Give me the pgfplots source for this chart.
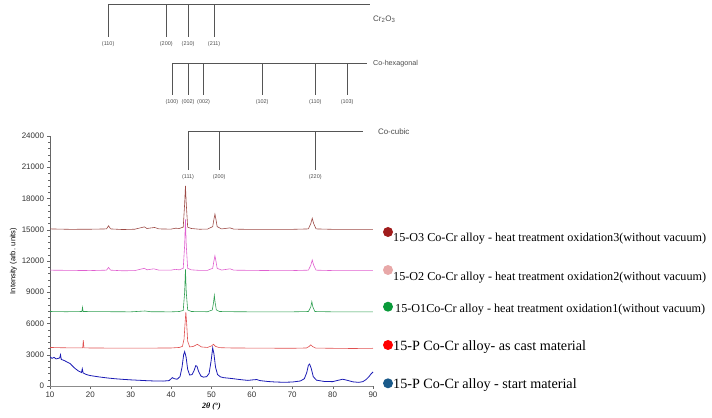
\documentclass[border=0pt]{standalone}
\usepackage{pgfplots}
\pgfplotsset{compat=1.18}
\usepackage{fontspec}
\setmainfont{Liberation Serif}
\setsansfont{Liberation Sans}

\definecolor{cOthree}{HTML}{9C4A45}
\definecolor{cOtwo}{HTML}{E060D0}
\definecolor{cOone}{HTML}{2E9E50}
\definecolor{cP}{HTML}{E05050}
\definecolor{cS}{HTML}{1A1AB4}
\definecolor{dOthree}{HTML}{A01C1C}
\definecolor{dOtwo}{HTML}{E8A8A8}
\definecolor{dOone}{HTML}{0A9A3A}
\definecolor{dP}{HTML}{FF0000}
\definecolor{dS}{HTML}{1A5A8A}
\definecolor{stick}{HTML}{555555}

\begin{document}
\begin{tikzpicture}
\path[use as bounding box] (-50bp,-32bp) rectangle (662bp,386bp);
\begin{axis}[
    scale only axis, width=323bp, height=250bp,
    xmin=10, xmax=90, ymin=0, ymax=24000,
    axis x line*=bottom, axis y line*=left,
    axis line style={-, draw=black!60},
    x axis line style={draw=black!45},
    xtick={10,20,...,90}, ytick={0,3000,...,24000},
    minor y tick num=4,
    tick align=outside, major tick length=2.5bp, minor tick length=1.5bp,
    tick style={black!60},
    scaled y ticks=false,
    /pgf/number format/1000 sep={},
    /pgf/number format/assume math mode=true,
    ticklabel style={font=\sffamily\fontsize{8}{9}\selectfont, text=black!80},
    xlabel={\bfseries\itshape 2θ (°)},
    xlabel style={font=\fontsize{8}{9}\selectfont, yshift=2bp},
    ylabel={Intensity (arb. units)},
    ylabel style={font=\sffamily\fontsize{7.5}{9}\selectfont, yshift=-2bp},
    clip=false,
    unbounded coords=jump,
]
% 15-O3
\addplot[cOthree, line width=0.6pt] coordinates {
(10,15080) (15,15040) (20,15050) (24,15080) (24.5,15380) (25,15080) (28,15020)
(31,15050) (33.4,15280) (34,15120) (35.9,15220) (37,15080) (40,15060) (41.1,15150)
(42,15120) (43,15250) (43.35,17500) (43.55,19200) (43.75,17500) (44.1,15250)
(45,15120) (47,15050) (49,15060) (50.3,15300) (50.6,16000) (50.85,16500)
(51.1,16000) (51.4,15300) (52.5,15080) (54.6,15180) (55.5,15060) (60,15030)
(65,15040) (70,15040) (74,15080) (74.6,15600) (74.95,16100) (75.3,15600)
(75.9,15080) (80,15040) (85,15030) (90,15030)};
% 15-O2
\addplot[cOtwo, line width=0.6pt] coordinates {
(10,11120) (15,11100) (20,11080) (24,11120) (24.5,11380) (25,11120) (28,11060)
(31,11080) (33.4,11300) (34,11150) (35.7,11250) (37,11120) (40,11120) (41,11200)
(42,11150) (43,11300) (43.35,13500) (43.55,16000) (43.75,13500) (44.1,11300)
(45,11150) (47,11100) (49,11100) (50.3,11300) (50.6,12000) (50.85,12500)
(51.1,12000) (51.4,11300) (52.5,11130) (54.6,11250) (55.5,11120) (60,11100)
(65,11080) (70,11080) (74,11120) (74.6,11600) (74.95,12100) (75.3,11600)
(75.9,11120) (80,11080) (85,11080) (90,11080)};
% 15-O1
\addplot[cOone, line width=0.6pt] coordinates {
(10,7150) (14,7130) (17.9,7150) (18.05,7550) (18.2,7150) (22,7140) (26,7130)
(30,7120) (33.5,7200) (35,7130) (40,7120) (42,7150) (43,7250) (43.35,9000)
(43.55,11200) (43.75,9000) (44.1,7300) (45,7150) (49,7130) (50.2,7300)
(50.5,8000) (50.7,8700) (50.9,8000) (51.2,7300) (52,7150) (56,7130) (60,7120)
(65,7120) (70,7120) (74,7150) (74.6,7600) (74.85,8100) (75.1,7600) (75.6,7150)
(80,7120) (85,7120) (90,7120)};
% 15-P as cast
\addplot[cP, line width=0.6pt] coordinates {
(10,3700) (12,3680) (15,3660) (18.1,3660) (18.25,4400) (18.4,3660) (20,3650)
(25,3640) (30,3640) (35,3640) (40,3650) (42,3700) (42.8,3800) (43.2,4500)
(43.45,6000) (43.65,7100) (43.85,6000) (44.1,4300) (44.6,3750) (45.5,3800)
(46.5,4000) (47.5,3750) (49,3700) (50,3850) (50.5,4000) (51,3800) (52,3680)
(55,3650) (60,3640) (65,3630) (70,3620) (73.5,3650) (74.2,3800) (74.6,3950)
(75,3800) (75.8,3640) (80,3620) (85,3600) (90,3620)};
% 15-P start
\addplot[cS, line width=0.8pt] coordinates {
(10,2800) (10.5,2650) (11,2750) (11.5,2600) (12,2650) (12.4,2700) (12.6,3000)
(12.8,2550) (13.5,2450) (14,2350) (15,2150) (16,1750) (17,1450) (17.8,1300)
(18,1650) (18.2,1250) (19,1100) (20,1000) (22,880) (24,780) (26,700) (28,640)
(30,590) (32,550) (34,510) (36,480) (38,470) (39.5,520) (40.3,800) (40.8,700)
(41.5,650) (42.2,900) (42.7,1800) (43.1,3000) (43.35,3300) (43.7,2800)
(44.1,1600) (44.6,1050) (45.2,1100) (45.7,1500) (46.1,1950) (46.4,1900)
(46.8,1400) (47.4,950) (48,850) (48.8,900) (49.4,1200) (49.9,2400) (50.3,3650)
(50.6,3100) (51,1800) (51.5,1100) (52.2,880) (53,800) (55,720) (57,620)
(59,540) (60.5,600) (61.2,620) (62,520) (64,430) (66,380) (68,360) (70,380)
(72,480) (73,700) (73.6,1300) (74,2000) (74.3,2100) (74.7,1700) (75.2,900)
(76,560) (78,430) (80,420) (81.5,560) (82.5,650) (83.5,560) (85,400)
(86.5,350) (87.5,420) (88.3,620) (89,900) (89.5,1150) (90,1350)};

% reference patterns
\addplot[stick, line width=0.6pt] coordinates {
(24.4,33536) (24.4,36643) (89.3,36643) (38.8,nan)
(38.8,33536) (38.8,36643) (44.2,nan)
(44.2,33536) (44.2,36643) (50.65,nan)
(50.65,33536) (50.65,36643)};
\addplot[stick, line width=0.6pt] coordinates {
(40.2,27936) (40.2,30976) (88.6,30976) (44.2,nan)
(44.2,27936) (44.2,30976) (48.05,nan)
(48.05,27936) (48.05,30976) (62.55,nan)
(62.55,27936) (62.55,30976) (75.7,nan)
(75.7,27936) (75.7,30976) (83.6,nan)
(83.6,27936) (83.6,30976)};
\addplot[stick, line width=0.6pt] coordinates {
(44.2,20736) (44.2,24416) (87.6,24416) (51.9,nan)
(51.9,20736) (51.9,24416) (75.7,nan)
(75.7,20736) (75.7,24416)};

\begin{scope}[every node/.style={font=\sffamily\fontsize{5.5}{6}\selectfont, text=black!70, inner sep=0pt}]
\node at (axis cs:24.4,32832) {(110)};
\node at (axis cs:38.8,32832) {(200)};
\node at (axis cs:44.2,32832) {(210)};
\node at (axis cs:50.65,32832) {(211)};
\node at (axis cs:40.2,27296) {(100)};
\node at (axis cs:44.2,27296) {(002)};
\node at (axis cs:48.05,27296) {(002)};
\node at (axis cs:62.55,27296) {(102)};
\node at (axis cs:75.7,27296) {(110)};
\node at (axis cs:83.6,27296) {(103)};
\node at (axis cs:44.2,20096) {(111)};
\node at (axis cs:51.9,20096) {(200)};
\node at (axis cs:75.7,20096) {(220)};
\end{scope}
\begin{scope}[every node/.style={font=\sffamily\fontsize{8}{9}\selectfont, text=black!70, inner sep=0pt, anchor=west}]
\node at (axis cs:90,35200) {Cr\textsubscript{2}O\textsubscript{3}};
\node[font=\sffamily\fontsize{7.2}{8}\selectfont] at (axis cs:90,30976) {Co-hexagonal};
\node at (axis cs:91.2,24416) {Co-cubic};
\end{scope}
\end{axis}

% legend
\fill[dOthree] (338bp,154bp) circle (5bp);
\fill[dOtwo] (338bp,116bp) circle (5bp);
\fill[dOone] (338bp,79.3bp) circle (5bp);
\fill[dP] (338bp,41bp) circle (5bp);
\fill[dS] (338bp,2.7bp) circle (5bp);
\begin{scope}[every node/.style={inner sep=0pt, anchor=base west}]
\node[font=\fontsize{12.2}{13}\selectfont] at (343bp,144.3bp) {15-O3 Co-Cr alloy - heat treatment oxidation3(without vacuum)};
\node[font=\fontsize{12.2}{13}\selectfont] at (343bp,105.3bp) {15-O2 Co-Cr alloy - heat treatment oxidation2(without vacuum)};
\node[font=\fontsize{12.2}{13}\selectfont] at (345bp,73bp) {15-O1Co-Cr alloy - heat treatment oxidation1(without vacuum)};
\node[font=\fontsize{14.2}{15}\selectfont] at (343bp,36bp) {15-P Co-Cr alloy- as cast material};
\node[font=\fontsize{14.2}{15}\selectfont] at (343bp,-2bp) {15-P Co-Cr alloy - start material};
\end{scope}
\end{tikzpicture}
\end{document}
